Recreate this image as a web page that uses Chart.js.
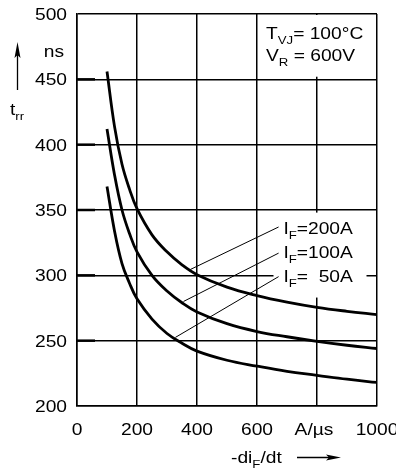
<!DOCTYPE html>
<html>
<head>
<meta charset="utf-8">
<script src="https://cdn.jsdelivr.net/npm/chart.js@4"></script>
<style>
  html, body { margin: 0; padding: 0; background: #fff; }
  #wrap { width: 396px; height: 474px; position: relative; }
</style>
</head>
<body>
<div id="wrap"><canvas id="trrChart"></canvas></div>
<script>
// valeurs
const diDt = [100, 125, 150, 175, 200, 250, 300, 350, 400, 500, 600, 700, 800, 900, 1000];
const trr200 = [456, 414, 385, 366, 351, 331, 318, 308, 300.5, 291, 284.5, 279.5, 275.5, 272.5, 270];
const trr100 = [412, 377, 350, 332, 318, 300, 288, 279, 272, 263, 257, 253, 249.5, 246.5, 244];
const trr50 = [368, 334, 309, 294, 282, 266.5, 255.5, 248, 242, 235, 230.5, 226.5, 223.5, 220.5, 218];

// lignes de repere (courbe -> etiquette)
const leaderX = [[378, 672], [355, 672], [328, 672]];
const leaderY = [[304.5, 337], [280, 317], [252.5, 299]];
const curveLabels = ["=200A", "=100A", "=  50A"];
const labelY = [336, 318, 299.5];

const xTicks = [0, 200, 400, 600, 800, 1000];
const yTicks = [200, 250, 300, 350, 400, 450, 500];

const FONT = "Liberation Sans, Arial, sans-serif";
const SIZE = 16;
const STRETCH = 1.2; // le texte d'origine est plus large

function toPoints(xs, ys) {
  return xs.map((x, i) => ({ x: x, y: ys[i] }));
}

function textWidth(ctx, parts) {
  let w = 0;
  parts.forEach(p => {
    ctx.font = (p[1] ? 11 : SIZE) + "px " + FONT;
    w += ctx.measureText(p[0]).width;
  });
  return w * STRETCH;
}

// texte (avec indices) elargi horizontalement
function drawParts(ctx, x, y, parts, align) {
  const w = textWidth(ctx, parts);
  if (align === "right") x -= w;
  if (align === "center") x -= w / 2;
  ctx.save();
  ctx.translate(x, y);
  ctx.scale(STRETCH, 1);
  ctx.textAlign = "left";
  ctx.textBaseline = "alphabetic";
  let cx = 0;
  parts.forEach(p => {
    const sub = p[1];
    ctx.font = (sub ? 11 : SIZE) + "px " + FONT;
    ctx.fillText(p[0], cx, sub ? 5 : 0);
    cx += ctx.measureText(p[0]).width;
  });
  ctx.restore();
}

const decorPlugin = {
  id: "decor",
  beforeDatasetsDraw(chart) {
    const ctx = chart.ctx;
    const xs = chart.scales.x, ys = chart.scales.y;
    ctx.save();
    // petits traits epais a gauche
    ctx.strokeStyle = "#000";
    ctx.lineWidth = 2.5;
    yTicks.slice(1, -1).forEach(v => {
      const py = ys.getPixelForValue(v);
      ctx.beginPath();
      ctx.moveTo(xs.left, py);
      ctx.lineTo(xs.left + 18, py);
      ctx.stroke();
    });
    // fonds blancs sous les textes
    ctx.fillStyle = "#fff";
    const bx = xs.getPixelForValue(605);
    ctx.fillRect(bx, ys.top + 1, xs.right - 1 - bx, ys.getPixelForValue(452) - ys.top - 1);
    const lx = xs.getPixelForValue(655), lx2 = xs.getPixelForValue(965);
    const ly = ys.getPixelForValue(348), ly2 = ys.getPixelForValue(283);
    ctx.fillRect(lx, ly, lx2 - lx, ly2 - ly);
    ctx.restore();
  },
  afterDatasetsDraw(chart) {
    const ctx = chart.ctx;
    const xs = chart.scales.x, ys = chart.scales.y;
    ctx.save();
    ctx.fillStyle = "#000";
    ctx.strokeStyle = "#000";

    // graduations
    yTicks.forEach(v => {
      drawParts(ctx, xs.left - 10, ys.getPixelForValue(v) + 6, [[String(v), false]], "right");
    });
    xTicks.forEach(v => {
      const lbl = v === 800 ? "A/\u00b5s" : String(v);
      const dx = v === 800 ? -3 : 0;
      drawParts(ctx, xs.getPixelForValue(v) + dx, ys.bottom + 29, [[lbl, false]], "center");
    });

    // encadre conditions
    const tx = xs.getPixelForValue(630);
    drawParts(ctx, tx, ys.top + 25, [["T", false], ["VJ", true], ["= 100\u00b0C", false]]);
    drawParts(ctx, tx, ys.top + 47, [["V", false], ["R", true], [" = 600V", false]]);

    // etiquettes des courbes
    curveLabels.forEach((t, i) => {
      const py = ys.getPixelForValue(labelY[i]) + 6;
      drawParts(ctx, xs.getPixelForValue(688), py, [["I", false], ["F", true], [t, false]]);
    });

    // axe y : unite, fleche, t_rr
    drawParts(ctx, 64, ys.getPixelForValue(472) + 6, [["ns", false]], "right");
    ctx.lineWidth = 1.3;
    ctx.beginPath();
    ctx.moveTo(17.5, 90);
    ctx.lineTo(17.5, 50);
    ctx.stroke();
    ctx.beginPath();
    ctx.moveTo(17.5, 42);
    ctx.lineTo(14.5, 58);
    ctx.lineTo(17.5, 55);
    ctx.lineTo(20.5, 58);
    ctx.closePath();
    ctx.fill();
    drawParts(ctx, 10, 115, [["t", false], ["rr", true]]);

    // axe x : -di_F/dt et fleche
    drawParts(ctx, 231, 463, [["-di", false], ["F", true], ["/dt", false]]);
    ctx.beginPath();
    ctx.moveTo(297, 457.5);
    ctx.lineTo(332, 457.5);
    ctx.stroke();
    ctx.beginPath();
    ctx.moveTo(341, 457.5);
    ctx.lineTo(326, 454.5);
    ctx.lineTo(329, 457.5);
    ctx.lineTo(326, 460.5);
    ctx.closePath();
    ctx.fill();
    ctx.restore();
  }
};

const curveStyle = {
  showLine: true,
  borderColor: "#000",
  borderWidth: 2.8,
  pointRadius: 0,
  tension: 0.4,
  fill: false
};

const leaderSets = leaderX.map((xs, i) => ({
  data: toPoints(xs, leaderY[i]),
  showLine: true,
  borderColor: "#000",
  borderWidth: 1,
  pointRadius: 0,
  fill: false
}));

function fitScale(size, key) {
  return s => {
    s[key] = size;
    s.paddingLeft = 0; s.paddingRight = 0; s.paddingTop = 0; s.paddingBottom = 0;
  };
}

new Chart(document.getElementById("trrChart"), {
  type: "scatter",
  data: {
    datasets: [
      Object.assign({ label: "IF=200A", data: toPoints(diDt, trr200) }, curveStyle),
      Object.assign({ label: "IF=100A", data: toPoints(diDt, trr100) }, curveStyle),
      Object.assign({ label: "IF=50A", data: toPoints(diDt, trr50) }, curveStyle)
    ].concat(leaderSets)
  },
  options: {
    responsive: true,
    maintainAspectRatio: false,
    animation: false,
    events: [],
    layout: { padding: { top: 14, right: 19, left: 0, bottom: 0 } },
    plugins: { legend: { display: false }, tooltip: { enabled: false } },
    scales: {
      x: {
        type: "linear",
        min: xTicks[0],
        max: xTicks[xTicks.length - 1],
        afterFit: fitScale(68, "height"),
        afterBuildTicks: s => { s.ticks = xTicks.map(v => ({ value: v })); },
        ticks: { display: false },
        grid: { color: "#000", lineWidth: 1.5, drawTicks: false },
        border: { color: "#000", width: 1.5 }
      },
      y: {
        type: "linear",
        min: yTicks[0],
        max: yTicks[yTicks.length - 1],
        afterFit: fitScale(77, "width"),
        afterBuildTicks: s => { s.ticks = yTicks.map(v => ({ value: v })); },
        ticks: { display: false },
        grid: { color: "#000", lineWidth: 1.5, drawTicks: false },
        border: { color: "#000", width: 1.5 }
      }
    }
  },
  plugins: [decorPlugin]
});
</script>
</body>
</html>
